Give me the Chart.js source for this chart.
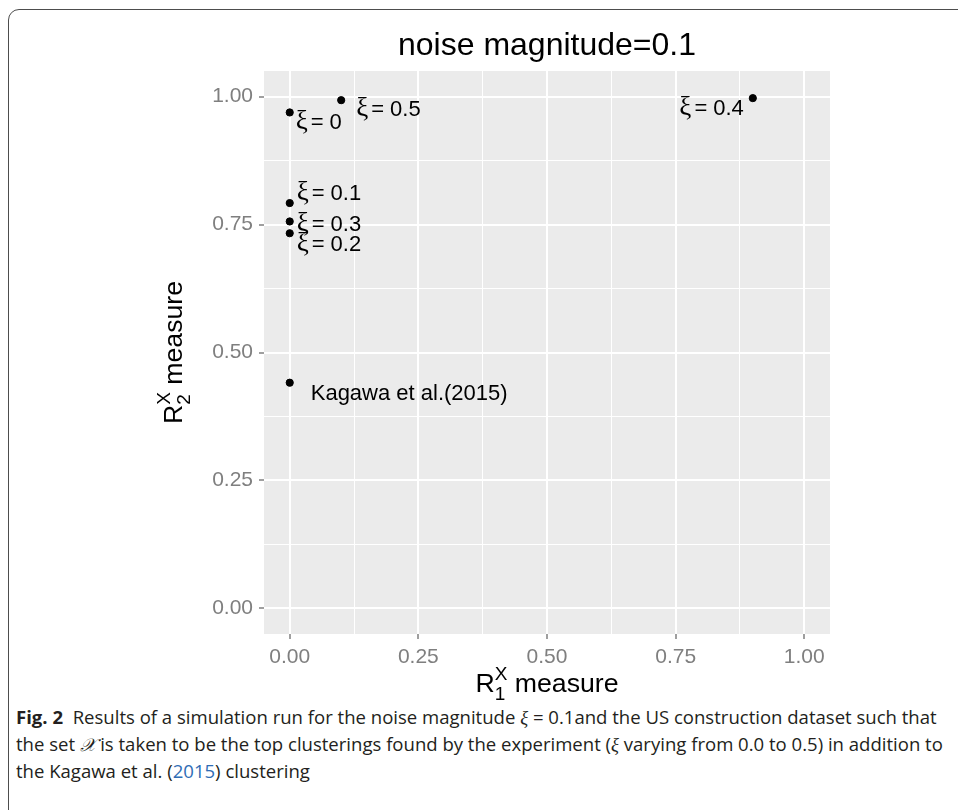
<!DOCTYPE html>
<html>
<head>
<meta charset="utf-8">
<script src="https://cdn.jsdelivr.net/npm/chart.js@4.4.0/dist/chart.umd.min.js"></script>
<style>
html, body { margin: 0; padding: 0; background: #fff; }
body { width: 958px; height: 810px; position: relative; overflow: hidden; font-family: "Liberation Sans", Arial, sans-serif; }
#frame { position: absolute; left: 8px; top: 9px; width: 1000px; height: 900px; border: 1.5px solid #4d4d4d; border-radius: 11px; box-sizing: border-box; }
#wrap { position: absolute; left: 0; top: 0; width: 958px; height: 700px; }
#cap { position: absolute; left: 16px; top: 704px; font-family: "Open Sans", sans-serif; font-size: 18px; color: #231f20; }
.ln { white-space: nowrap; height: 27px; line-height: 27px; transform-origin: left center; }
.m { font-family: "Liberation Serif", serif; font-style: italic; }
.blue { color: #2f6db5; }
</style>
</head>
<body>
<div id="frame"></div>
<div id="wrap"><canvas id="plot"></canvas></div>
<div id="cap">
  <div class="ln"><b>Fig. 2</b>&nbsp; Results of a simulation run for the noise magnitude <span class="m">ξ</span> = 0.1and the US construction dataset such that</div>
  <div class="ln">the set <span class="m">𝒳</span> is taken to be the top clusterings found by the experiment (<span class="m">ξ</span> varying from 0.0 to 0.5) in addition to</div>
  <div class="ln">the Kagawa et al. (<span class="blue">2015</span>) clustering</div>
</div>
<script>
// points: R1 measure (x), R2 measure (y)
const pointLabels = ['ξ = 0', 'ξ = 0.5', 'ξ = 0.1', 'ξ = 0.3', 'ξ = 0.2', 'ξ = 0.4', 'Kagawa et al.(2015)'];
const r1Values = [0, 0.1, 0, 0, 0, 0.9, 0];
const r2Values = [0.969, 0.993, 0.792, 0.756, 0.733, 0.997, 0.441];

const majorTicks = [0, 0.25, 0.5, 0.75, 1];
const minorTicks = [0.125, 0.375, 0.625, 0.875];
const tickLabels = ['0.00', '0.25', '0.50', '0.75', '1.00'];

// label placement next to each point: [dx, dy to baseline, align]
const labelPlace = [[6, 17, 'left'], [15, 16, 'left'], [7, -3, 'left'], [7, 10, 'left'],
                    [7, 18, 'left'], [-9, 17, 'right'], [21, 17, 'left']];

const SANS = '"Liberation Sans", Arial, sans-serif';
const SERIF = '"Liberation Serif", serif';

function isMajor(v) { return majorTicks.some(t => Math.abs(t - v) < 1e-9); }
function setTicks(scale) {
  scale.ticks = majorTicks.concat(minorTicks).sort((a, b) => a - b).map(v => ({ value: v }));
}

const panelBg = {
  id: 'panelBg',
  beforeDraw(chart) {
    const a = chart.chartArea, c = chart.ctx;
    c.save();
    c.fillStyle = '#ebebeb';
    c.fillRect(a.left, a.top, a.right - a.left, a.bottom - a.top);
    c.restore();
  }
};

function drawRTitle(c, sub) {
  c.textBaseline = 'alphabetic';
  c.textAlign = 'left';
  c.font = '26.7px ' + SANS;
  const wR = c.measureText('R').width;
  const wRest = c.measureText(' measure').width;
  c.font = '19px ' + SANS;
  const wS = Math.max(c.measureText('X').width, c.measureText(sub).width);
  let x = -(wR + wS + wRest) / 2;
  c.font = '26.7px ' + SANS;
  c.fillText('R', x, 0);
  x += wR;
  c.font = '19px ' + SANS;
  c.fillText('X', x, -12);
  c.fillText(sub, x, 8);
  x += wS;
  c.font = '26.7px ' + SANS;
  c.fillText(' measure', x, 0);
}

const annotations = {
  id: 'annotations',
  afterDraw(chart) {
    const a = chart.chartArea, c = chart.ctx;
    const xs = chart.scales.x, ys = chart.scales.y;
    c.save();
    c.fillStyle = '#000';
    // title
    c.font = '32px ' + SANS;
    c.textAlign = 'center';
    c.textBaseline = 'alphabetic';
    c.fillText('noise magnitude=0.1', (a.left + a.right) / 2, 55);
    // axis titles
    c.save();
    c.translate((a.left + a.right) / 2, 692);
    drawRTitle(c, '1');
    c.restore();
    c.save();
    c.translate(182, (a.top + a.bottom) / 2);
    c.rotate(-Math.PI / 2);
    drawRTitle(c, '2');
    c.restore();
    // point labels
    c.textBaseline = 'alphabetic';
    pointLabels.forEach((txt, i) => {
      const px = xs.getPixelForValue(r1Values[i]);
      const py = ys.getPixelForValue(r2Values[i]);
      const [dx, dy, align] = labelPlace[i];
      const parts = txt.startsWith('ξ')
        ? [['ξ', '27px ' + SERIF, 3], ['=', '22px ' + SANS, 6], [txt.split('= ')[1], '22px ' + SANS, 0]]
        : [[txt, '22px ' + SANS, 0]];
      let total = 0;
      parts.forEach(p => { c.font = p[1]; total += c.measureText(p[0]).width + p[2]; });
      let x = px + dx - (align === 'right' ? total : 0);
      c.textAlign = 'left';
      parts.forEach(p => {
        c.font = p[1];
        c.fillText(p[0], x, py + dy);
        x += c.measureText(p[0]).width + p[2];
      });
    });
    c.restore();
  }
};

function axisOpts(size) {
  return {
    type: 'linear',
    min: -0.05,
    max: 1.05,
    afterBuildTicks: setTicks,
    afterFit(scale) {
      if (scale.axis === 'x') scale.height = size; else scale.width = size;
    },
    border: { display: false },
    grid: {
      color: '#ffffff',
      lineWidth: ctx => (isMajor(ctx.tick.value) ? 2 : 1),
      tickLength: 5,
      tickWidth: 1.5,
      tickColor: ctx => (isMajor(ctx.tick.value) ? '#7f7f7f' : 'rgba(0,0,0,0)')
    },
    ticks: {
      autoSkip: false,
      maxRotation: 0,
      padding: 6,
      color: '#7f7f7f',
      font: { family: SANS, size: 21 },
      callback: v => (isMajor(v) ? tickLabels[majorTicks.findIndex(t => Math.abs(t - v) < 1e-9)] : '')
    }
  };
}

new Chart(document.getElementById('plot'), {
  type: 'scatter',
  data: {
    datasets: [{
      data: r1Values.map((v, i) => ({ x: v, y: r2Values[i] })),
      backgroundColor: '#000',
      borderColor: '#000',
      pointRadius: 3.6,
      pointHoverRadius: 3.6
    }]
  },
  options: {
    responsive: true,
    maintainAspectRatio: false,
    animation: false,
    events: [],
    layout: { padding: { left: 164, right: 128, top: 71, bottom: 26 } },
    plugins: { legend: { display: false }, tooltip: { enabled: false } },
    scales: { x: axisOpts(40), y: axisOpts(100) }
  },
  plugins: [panelBg, annotations]
});

// squeeze the caption to the narrow journal face
const lines = document.querySelectorAll('#cap .ln');
const k = 927 / lines[0].scrollWidth;
lines.forEach(l => { l.style.transform = 'scaleX(' + k + ')'; });
</script>
</body>
</html>
